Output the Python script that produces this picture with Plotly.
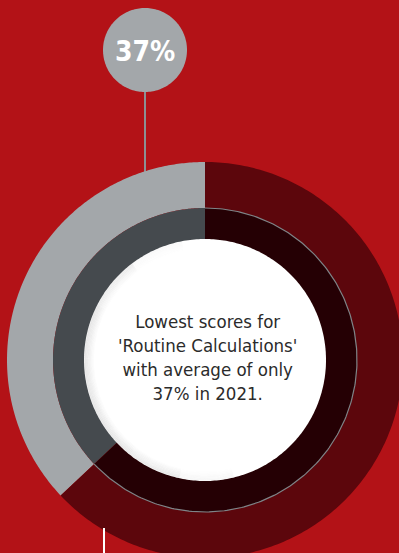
import numpy as np
import plotly.graph_objects as go

# Share of the score breakdown
segment_labels = ["Routine Calculations", "Other"]
segment_pct = [37, 63]
headline_value = "37%"
center_text = ["Lowest scores for", "'Routine Calculations'", "with average of only", "37% in 2021."]

W, H = 399, 553
BG = "#B31217"
OUTER_COLORS = ["#A3A7AA", "#5C060C"]
INNER_COLORS = ["#454A4E", "#250004"]
CX, CY = 205, 360
R_OUT, R_MID, R_IN = 198, 152, 121
FONT = "DejaVu Sans Condensed, Roboto, sans-serif"
NO_LINE = dict(width=0)


def ring_sector(t0, t1, r_out, r_in, n=240):
    """Annular sector; angles in degrees, clockwise from 12 o'clock (screen coords, y down)."""
    t = np.radians(np.linspace(t0, t1, n))
    xo = CX + r_out * np.sin(t)
    yo = CY - r_out * np.cos(t)
    xi = CX + r_in * np.sin(t[::-1])
    yi = CY - r_in * np.cos(t[::-1])
    return np.r_[xo, xi, xo[:1]], np.r_[yo, yi, yo[:1]]


def arc(t0, t1, r, n=240):
    t = np.radians(np.linspace(t0, t1, n))
    return CX + r * np.sin(t), CY - r * np.cos(t)


fig = go.Figure()

# Leader line from the headline bubble down to the ring
bx, by, br = 145, 50, 42
fig.add_trace(go.Scatter(x=[bx, bx], y=[by, 178], mode="lines",
                         line=dict(color="#8C9094", width=2), hoverinfo="skip"))

# First segment runs counter-clockwise from the top, the rest clockwise
span = 360 * segment_pct[0] / sum(segment_pct)
angles = [(-span, 0), (0, 360 - span)]

for (t0, t1), c in zip(angles, OUTER_COLORS):
    x, y = ring_sector(t0, t1, R_OUT, R_MID)
    fig.add_trace(go.Scatter(x=x, y=y, fill="toself", fillcolor=c, mode="none",
                             line=NO_LINE, hoverinfo="skip"))

for (t0, t1), c in zip(angles, INNER_COLORS):
    x, y = ring_sector(t0, t1, R_MID, R_IN - 3)
    fig.add_trace(go.Scatter(x=x, y=y, fill="toself", fillcolor=c, mode="none",
                             line=NO_LINE, hoverinfo="skip"))

# Thin separator between rings on the dark segment
x, y = arc(angles[1][0], angles[1][1], R_MID)
fig.add_trace(go.Scatter(x=x, y=y, mode="lines", line=dict(color="#7E8488", width=1.2), hoverinfo="skip"))

# White centre disc
x, y = arc(0, 360, R_IN, 360)
fig.add_trace(go.Scatter(x=x, y=y, fill="toself", fillcolor="#FFFFFF", mode="none",
                         line=NO_LINE, hoverinfo="skip"))

# Soft inner shading along the lower-left edge of the disc
for k in range(8):
    r = R_IN - 0.8 - k * 1.2
    a = 0.11 * (1 - k / 8)
    t = np.linspace(140, 400, 200)
    w = np.clip(np.cos(np.radians(t - 255)) * 1.3, 0, 1)
    for seg in range(0, 200, 20):
        tt = t[seg:seg + 21]
        ww = w[seg:seg + 21].mean()
        if ww <= 0.02:
            continue
        xs, ys = arc(tt[0], tt[-1], r, 21)
        fig.add_trace(go.Scatter(x=xs, y=ys, mode="lines",
                                 line=dict(color=f"rgba(60,60,60,{a * ww:.3f})", width=1.4),
                                 hoverinfo="skip"))

# Headline bubble
x, y = arc(0, 360, 1, 180)
fig.add_trace(go.Scatter(x=bx + (x - CX) * br, y=by + (y - CY) * br, fill="toself",
                         fillcolor="#A3A7AA", mode="none", line=NO_LINE, hoverinfo="skip"))

fig.add_annotation(x=bx, y=by + 1, text=f"<b>{headline_value}</b>", showarrow=False,
                   font=dict(family=FONT, size=28, color="#FFFFFF"))

fig.add_annotation(x=CX + 2, y=CY - 3, text="<br>".join(center_text), showarrow=False,
                   font=dict(family=FONT, size=18.5, color="#2B2B2B"),
                   align="center")

# White marker line at the bottom
fig.add_trace(go.Scatter(x=[104, 104], y=[528, 560], mode="lines",
                         line=dict(color="#FFFFFF", width=2), hoverinfo="skip"))

fig.update_layout(
    width=W, height=H, margin=dict(l=0, r=0, t=0, b=0),
    paper_bgcolor=BG, plot_bgcolor=BG, showlegend=False,
    xaxis=dict(range=[0, W], visible=False, fixedrange=True),
    yaxis=dict(range=[H, 0], visible=False, fixedrange=True),
)

fig.write_html("out.html", config={"displayModeBar": False})
